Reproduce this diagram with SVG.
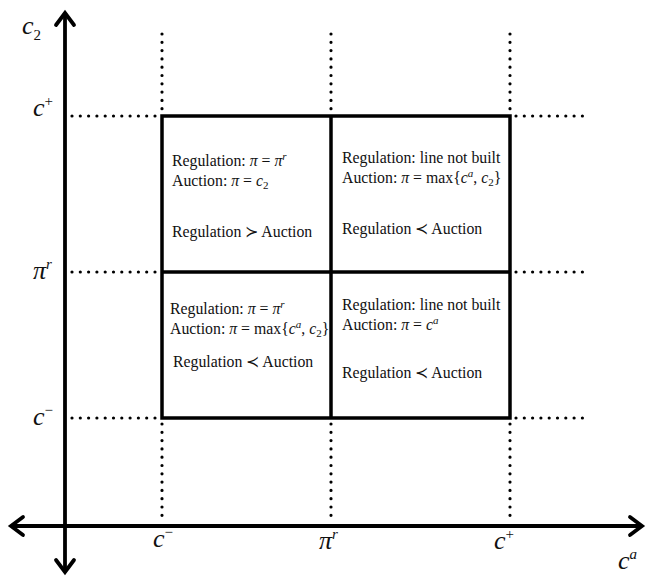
<svg xmlns="http://www.w3.org/2000/svg" width="653" height="576" viewBox="0 0 653 576">
<style>
.ax{stroke:#000;stroke-width:3.8;fill:none;stroke-linejoin:miter}
.ah{stroke:#000;stroke-width:3.8;fill:none;stroke-linecap:round;stroke-linejoin:miter}
.dot{stroke:#000;stroke-width:3.2;fill:none;stroke-linecap:round;stroke-dasharray:0 8.3}
.box{stroke:#000;stroke-width:3.5;fill:none}
.t{font-family:"Liberation Serif","Times New Roman",serif;font-size:15.8px;fill:#111}
.m{font-style:italic}
.lab{font-family:"Liberation Serif","Times New Roman",serif;font-size:26px;font-style:italic;fill:#111}
.sup{font-size:15px}
</style>
<rect width="653" height="576" fill="#fff"/>
<g id="connectors">
  <line class="ax" x1="65" y1="14" x2="65" y2="570"/>
  <line class="ax" x1="12" y1="526" x2="641" y2="526"/>
  <polyline class="ah" points="56,25 65,13 74,25"/>
  <polyline class="ah" points="56,560 65,572 74,560"/>
  <polyline class="ah" points="23,517 11,526 23,535"/>
  <polyline class="ah" points="630,517 642,526 630,535"/>
  <line class="dot" x1="162" y1="34" x2="162" y2="112"/>
  <line class="dot" x1="331" y1="34" x2="331" y2="112"/>
  <line class="dot" x1="510" y1="34" x2="510" y2="112"/>
  <line class="dot" x1="162" y1="424" x2="162" y2="522"/>
  <line class="dot" x1="331" y1="424" x2="331" y2="522"/>
  <line class="dot" x1="510" y1="424" x2="510" y2="522"/>
  <line class="dot" x1="72" y1="116" x2="158" y2="116"/>
  <line class="dot" x1="72" y1="272" x2="158" y2="272"/>
  <line class="dot" x1="72" y1="418" x2="158" y2="418"/>
  <line class="dot" x1="516" y1="116" x2="585" y2="116"/>
  <line class="dot" x1="516" y1="272" x2="585" y2="272"/>
  <line class="dot" x1="516" y1="418" x2="585" y2="418"/>
  <rect class="box" x="162" y="116" width="348" height="302"/>
  <line class="box" x1="331" y1="116" x2="331" y2="418"/>
  <line class="box" x1="162" y1="272" x2="510" y2="272"/>
</g>
<g id="axis-labels">
  <text class="lab" x="22" y="34">c<tspan class="sup" dy="6" font-style="normal">2</tspan></text>
  <text class="lab" x="33" y="116">c<tspan class="sup" dy="-10" font-style="normal">+</tspan></text>
  <text class="lab" x="33" y="279">π<tspan class="sup" dy="-10">r</tspan></text>
  <text class="lab" x="33" y="425">c<tspan class="sup" dy="-10" font-style="normal">−</tspan></text>
  <text class="lab" x="153" y="547">c<tspan class="sup" dy="-10" font-style="normal">−</tspan></text>
  <text class="lab" x="319" y="549">π<tspan class="sup" dy="-10">r</tspan></text>
  <text class="lab" x="494" y="549">c<tspan class="sup" dy="-10" font-style="normal">+</tspan></text>
  <text class="lab" x="618" y="569">c<tspan class="sup" dy="-10">a</tspan></text>
</g>
<g id="cell-top-left">
  <text class="t" x="172" y="166">Regulation: <tspan class="m">π</tspan> = <tspan class="m">π</tspan><tspan class="m" font-size="11" dy="-6">r</tspan></text>
  <text class="t" x="172" y="186">Auction: <tspan class="m">π</tspan> = <tspan class="m">c</tspan><tspan font-size="11" dy="3">2</tspan></text>
  <text class="t" x="172" y="237">Regulation ≻ Auction</text>
</g>
<g id="cell-top-right">
  <text class="t" x="342" y="163">Regulation: line not built</text>
  <text class="t" x="342" y="183">Auction: <tspan class="m">π</tspan> = max{<tspan class="m">c</tspan><tspan class="m" font-size="11" dy="-6">a</tspan><tspan dy="6">, </tspan><tspan class="m">c</tspan><tspan font-size="11" dy="3">2</tspan><tspan dy="-3">}</tspan></text>
  <text class="t" x="342" y="234">Regulation ≺ Auction</text>
</g>
<g id="cell-bottom-left">
  <text class="t" x="170" y="314">Regulation: <tspan class="m">π</tspan> = <tspan class="m">π</tspan><tspan class="m" font-size="11" dy="-6">r</tspan></text>
  <text class="t" x="170" y="334">Auction: <tspan class="m">π</tspan> = max{<tspan class="m">c</tspan><tspan class="m" font-size="11" dy="-6">a</tspan><tspan dy="6">, </tspan><tspan class="m">c</tspan><tspan font-size="11" dy="3">2</tspan><tspan dy="-3">}</tspan></text>
  <text class="t" x="173" y="367">Regulation ≺ Auction</text>
</g>
<g id="cell-bottom-right">
  <text class="t" x="342" y="310">Regulation: line not built</text>
  <text class="t" x="342" y="330">Auction: <tspan class="m">π</tspan> = <tspan class="m">c</tspan><tspan class="m" font-size="11" dy="-6">a</tspan></text>
  <text class="t" x="342" y="378">Regulation ≺ Auction</text>
</g>
</svg>
